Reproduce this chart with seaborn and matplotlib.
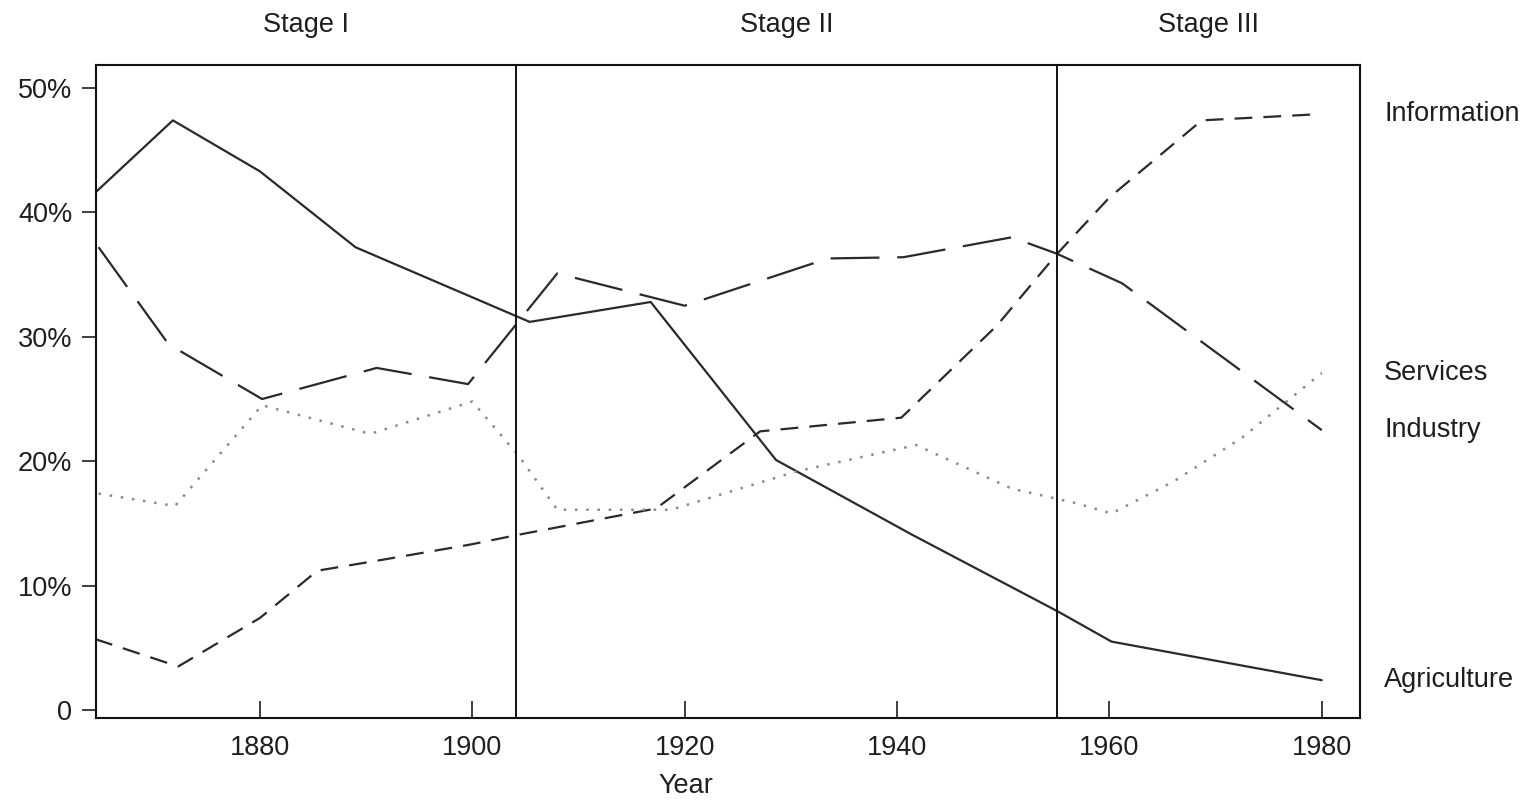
import numpy as np
import pandas as pd
import matplotlib
matplotlib.use('Agg')
import matplotlib.pyplot as plt
import matplotlib.transforms as mtransforms
import seaborn as sns

# values (percent of labour force)
agri_years = [1864.5, 1871.8, 1880, 1889, 1905.4, 1916.8, 1928.6, 1941.4, 1955.2, 1960.2, 1980]
agri_vals = [41.6, 47.4, 43.3, 37.2, 31.2, 32.8, 20.1, 14.1, 7.9, 5.5, 2.4]

info_years = [1864.5, 1872.3, 1880, 1885.4, 1891, 1899.8, 1904.4, 1917.3, 1927.1, 1940.4, 1949.4, 1955, 1960, 1968.7, 1979.8]
info_vals = [5.7, 3.5, 7.4, 11.2, 12.0, 13.3, 14.1, 16.2, 22.4, 23.5, 30.9, 36.6, 41.2, 47.4, 47.9]

ind_years = [1864.8, 1871.4, 1880.2, 1891, 1899.6, 1908, 1920, 1933.5, 1940.6, 1950.8, 1955, 1961.2, 1980]
ind_vals = [37.2, 29.4, 25.0, 27.5, 26.2, 35.1, 32.5, 36.3, 36.4, 38.0, 36.7, 34.3, 22.5]

serv_years = [1864.8, 1872, 1880.2, 1890.4, 1900, 1904.4, 1908, 1918.7, 1930.6, 1941.8, 1950.8, 1957, 1960.2, 1966.1, 1972.5, 1980]
serv_vals = [17.4, 16.4, 24.5, 22.2, 24.8, 20.4, 16.1, 16.1, 19.2, 21.3, 17.8, 16.6, 15.8, 18.4, 21.9, 27.1]

stage_names = ['Stage I', 'Stage II', 'Stage III']
stage_breaks = [1904.1, 1955.1]
xticks = [1880, 1900, 1920, 1940, 1960, 1980]
yticks = [0, 10, 20, 30, 40, 50]
ytick_labels = ['0', '10%', '20%', '30%', '40%', '50%']

sns.set_style('white')
plt.rcParams['font.family'] = ['Liberation Sans', 'DejaVu Sans']
FS = 19.5
TXT = '#1e1e1e'

fig = plt.figure(figsize=(15.31, 8.05), dpi=100)
ax = fig.add_axes([96 / 1531, 1 - 718 / 805, 1264 / 1531, 653 / 805])

series = [
    ('Agriculture', agri_years, agri_vals, '#2a2a2a', '-', 1.6),
    ('Information', info_years, info_vals, '#2a2a2a', (0, (8, 5)), 1.6),
    ('Industry', ind_years, ind_vals, '#2a2a2a', (0, (22, 8)), 1.6),
    ('Services', serv_years, serv_vals, '#8a8a8a', (0, (1, 3.5)), 1.8),
]

for name, yrs, vals, col, ls, lw in series:
    df = pd.DataFrame({'Year': yrs, 'Share': vals})
    sns.lineplot(data=df, x='Year', y='Share', ax=ax, color=col,
                 linestyle=ls, linewidth=lw, estimator=None)
    # series name at the right, level with where the line ends
    ax.text(1.019, vals[-1], name, transform=ax.get_yaxis_transform(),
            ha='left', va='center', fontsize=FS, color=TXT)

for b in stage_breaks:
    ax.axvline(b, color='#111111', lw=1.4)

xmin, xmax = 1864.56, 1983.6
ax.set_xlim(xmin, xmax)
ax.set_ylim(-0.64, 51.85)

# stage titles centred over each period
edges = [xmin] + stage_breaks + [xmax]
trans = mtransforms.blended_transform_factory(ax.transData, fig.transFigure)
for i, name in enumerate(stage_names):
    mid = (edges[i] + edges[i + 1]) / 2
    ax.text(mid, 1 - 25 / 805, name, transform=trans,
            ha='center', va='center', fontsize=FS, color=TXT)

ax.set_xticks(xticks)
ax.set_yticks(yticks)
ax.set_yticklabels(ytick_labels)
ax.tick_params(axis='x', direction='in', length=12, width=1.2, pad=12, labelsize=FS, colors=TXT)
ax.tick_params(axis='y', direction='out', length=10, width=1.2, pad=7, labelsize=FS, colors=TXT)
ax.xaxis.set_ticks_position('bottom')
ax.yaxis.set_ticks_position('left')

ax.set_xlabel('Year', fontsize=FS, color=TXT)
ax.xaxis.set_label_coords(0.467, -0.084)
ax.set_ylabel('')

for s in ax.spines.values():
    s.set_color('#111111')
    s.set_linewidth(1.5)

fig.savefig('out.png', dpi=100)
